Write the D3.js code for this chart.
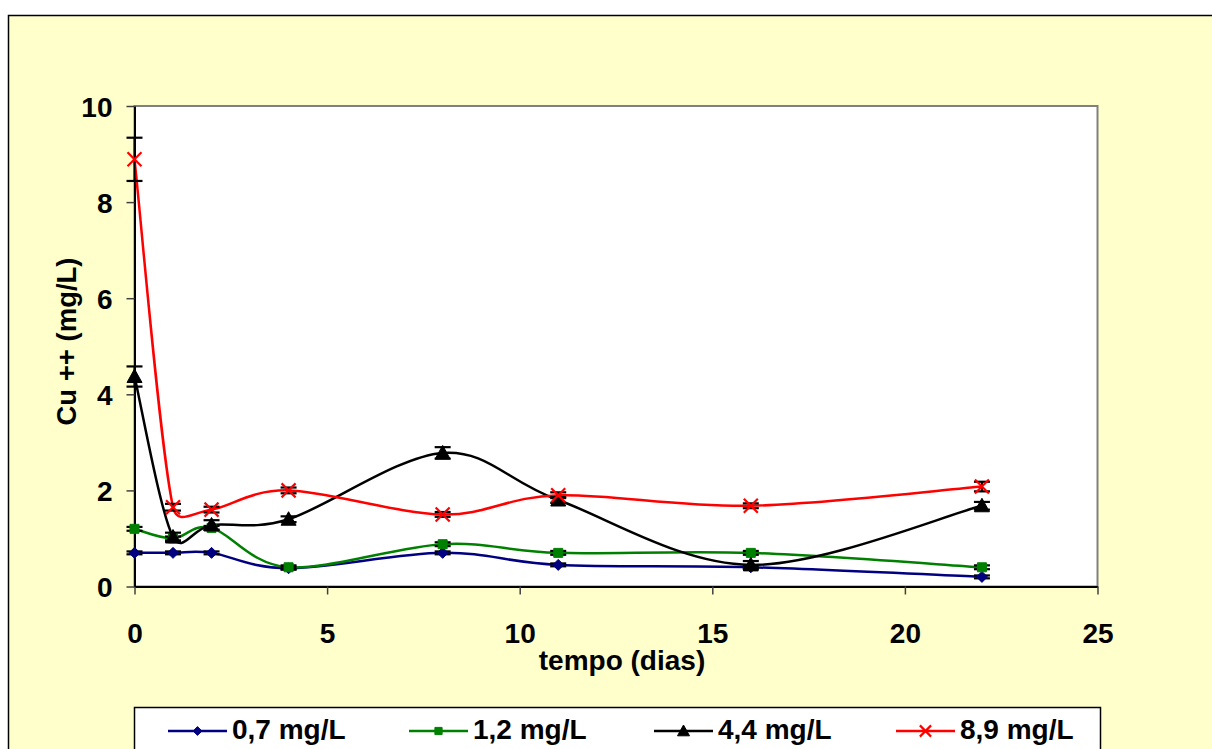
<!DOCTYPE html>
<html><head><meta charset="utf-8">
<script src="https://cdn.jsdelivr.net/npm/d3@7"></script>
<style>body{margin:0;background:#fff;}svg{display:block;font-family:"Liberation Sans",Arial,sans-serif;font-weight:bold;}</style>
</head><body><svg id="c" width="1212" height="749"></svg>
<script>
const days = [0, 1, 2, 4, 8, 11, 16, 22];
const seriesNames = ["0,7 mg/L", "1,2 mg/L", "4,4 mg/L", "8,9 mg/L"];
const s07 = [0.7, 0.7, 0.7, 0.38, 0.7, 0.45, 0.4, 0.2];
const s12 = [1.2, 1.0, 1.22, 0.4, 0.88, 0.7, 0.7, 0.4];
const s44 = [4.37, 1.03, 1.28, 1.4, 2.78, 1.8, 0.45, 1.68];
const s89 = [8.89, 1.65, 1.6, 2.0, 1.5, 1.9, 1.68, 2.08];
const e07 = [0.03, 0.03, 0.03, 0.03, 0.03, 0.03, 0.03, 0.03];
const e12 = [0.04, 0.04, 0.04, 0.04, 0.04, 0.04, 0.04, 0.04];
const e44 = [0.21, 0.09, 0.1, 0.06, 0.12, 0.06, 0.08, 0.08];
const e89 = [0.45, 0.07, 0.06, 0.06, 0.05, 0.06, 0.05, 0.1];
const xTicks = [0, 5, 10, 15, 20, 25];
const yTicks = [0, 2, 4, 6, 8, 10];
const xTitle = "tempo (dias)";
const yTitle = "Cu ++ (mg/L)";

const colors = ["#000080", "#008000", "#000000", "#FF0000"];
const markers = ["diamond", "square", "triangle", "x"];
const values = [s07, s12, s44, s89];
const errs = [e07, e12, e44, e89];

// Excel-like smoothed line curve for d3.line
function ExcelCurve(context) { this._context = context; }
ExcelCurve.prototype = {
  areaStart() { this._line = 0; }, areaEnd() { this._line = NaN; },
  lineStart() { this._pts = []; },
  point(px, py) { this._pts.push([+px, +py]); },
  lineEnd() {
    const p = this._pts, n = p.length, ctx = this._context;
    if (!n) return;
    ctx.moveTo(p[0][0], p[0][1]);
    if (n < 3) { for (let i = 1; i < n; i++) ctx.lineTo(p[i][0], p[i][1]); return; }
    const T = p.map((pt, i) => {
      const a = p[Math.max(0, i - 1)], b = p[Math.min(n - 1, i + 1)];
      return [(b[0] - a[0]) / 6, (b[1] - a[1]) / 6];
    });
    const clamp = (v, lim) => { const m = Math.hypot(v[0], v[1]); return m > lim ? [v[0] * lim / m, v[1] * lim / m] : v; };
    for (let i = 0; i < n - 1; i++) {
      const c = Math.hypot(p[i + 1][0] - p[i][0], p[i + 1][1] - p[i][1]);
      const d1 = clamp(T[i], 0.5 * c), d2 = clamp(T[i + 1], 0.5 * c);
      ctx.bezierCurveTo(p[i][0] + d1[0], p[i][1] + d1[1], p[i + 1][0] - d2[0], p[i + 1][1] - d2[1], p[i + 1][0], p[i + 1][1]);
    }
  }
};
const curveExcel = ctx => new ExcelCurve(ctx);

const svg = d3.select("#c");
svg.append("rect").attr("x", 8.5).attr("y", 15.5).attr("width", 1400).attr("height", 900)
  .attr("fill", "#FFFFCC").attr("stroke", "#000").attr("stroke-width", 1.5);

const L = 134.5, R = 1097.5, T = 106, B = 586.5;
const x = d3.scaleLinear().domain([0, 25]).range([L, R]);
const y = d3.scaleLinear().domain([0, 10]).range([B, T]);

svg.append("rect").attr("x", L).attr("y", T).attr("width", R - L).attr("height", B - T)
  .attr("fill", "#fff").attr("stroke", "#808080").attr("stroke-width", 2);

// axes
const xa = svg.append("g").attr("transform", `translate(0,${B})`)
  .call(d3.axisBottom(x).tickValues(xTicks).tickSize(8).tickSizeOuter(0).tickFormat(d3.format("d")));
const ya = svg.append("g").attr("transform", `translate(${L},0)`)
  .call(d3.axisLeft(y).tickValues(yTicks).tickSize(8).tickSizeOuter(0).tickFormat(d3.format("d")));
[xa, ya].forEach(a => {
  a.select(".domain").attr("stroke", "#000").attr("stroke-width", 2);
  a.selectAll(".tick line").attr("stroke", "#404040").attr("stroke-width", 1.5);
  a.selectAll(".tick text").attr("font-size", 28).attr("font-family", "Liberation Sans, Arial, sans-serif")
    .attr("font-weight", "bold").attr("fill", "#000");
});
xa.selectAll(".tick text").attr("y", 56).attr("dy", 0);
ya.selectAll(".tick text").attr("x", -22).attr("dy", "0.36em");

svg.append("text").attr("x", 622).attr("y", 670).attr("text-anchor", "middle")
  .attr("font-size", 28).text(xTitle);
svg.append("text").attr("transform", "translate(76,341.5) rotate(-90)").attr("text-anchor", "middle")
  .attr("font-size", 27.5).text(yTitle);

function markerPath(type, s) {
  const h = s / 2;
  if (type === "diamond") return `M0,${-h}L${h},0L0,${h}L${-h},0Z`;
  if (type === "square") return `M${-h},${-h}H${h}V${h}H${-h}Z`;
  if (type === "triangle") return `M0,${-h}L${h},${h * 0.8}L${-h},${h * 0.8}Z`;
  return `M${-h},${-h}L${h},${h}M${h},${-h}L${-h},${h}`;
}
function drawMarker(g, type, color, cx, cy, s) {
  const p = g.append("path").attr("d", markerPath(type, s)).attr("transform", `translate(${cx},${cy})`);
  if (type === "x") p.attr("fill", "none").attr("stroke", color).attr("stroke-width", 2.2);
  else p.attr("fill", color).attr("stroke", color).attr("stroke-width", 1);
}
const mSize = [11, 9, 15, 14];

const line = d3.line().x(d => x(d[0])).y(d => y(d[1])).curve(curveExcel);
const plot = svg.append("g");
values.forEach((vals, i) => {
  const pts = days.map((d, j) => [d, vals[j]]);
  plot.append("path").datum(pts).attr("d", line).attr("fill", "none")
    .attr("stroke", colors[i]).attr("stroke-width", 2.5);
});
values.forEach((vals, i) => {
  const g = plot.append("g");
  days.forEach((d, j) => {
    const cx = x(d), y1 = y(vals[j] + errs[i][j]), y2 = y(vals[j] - errs[i][j]);
    g.append("line").attr("x1", cx).attr("x2", cx).attr("y1", y1).attr("y2", y2).attr("stroke", "#000").attr("stroke-width", 2);
    [y1, y2].forEach(yy => g.append("line").attr("x1", cx - 8).attr("x2", cx + 8).attr("y1", yy).attr("y2", yy)
      .attr("stroke", "#000").attr("stroke-width", 2.2));
  });
  days.forEach((d, j) => drawMarker(g, markers[i], colors[i], x(d), y(vals[j]), mSize[i]));
});

// legend
svg.append("rect").attr("x", 134.5).attr("y", 707.5).attr("width", 966).attr("height", 80)
  .attr("fill", "#fff").attr("stroke", "#000").attr("stroke-width", 1.5);
const legX = [168, 409, 654, 896];
seriesNames.forEach((n, i) => {
  const g = svg.append("g");
  g.append("line").attr("x1", legX[i]).attr("x2", legX[i] + 59).attr("y1", 731).attr("y2", 731)
    .attr("stroke", colors[i]).attr("stroke-width", 2.5);
  drawMarker(g, markers[i], colors[i], legX[i] + 29.5, 731, mSize[i] * 0.8);
  g.append("text").attr("x", legX[i] + 64).attr("y", 739).attr("font-size", 28).text(n);
});
</script></body></html>
